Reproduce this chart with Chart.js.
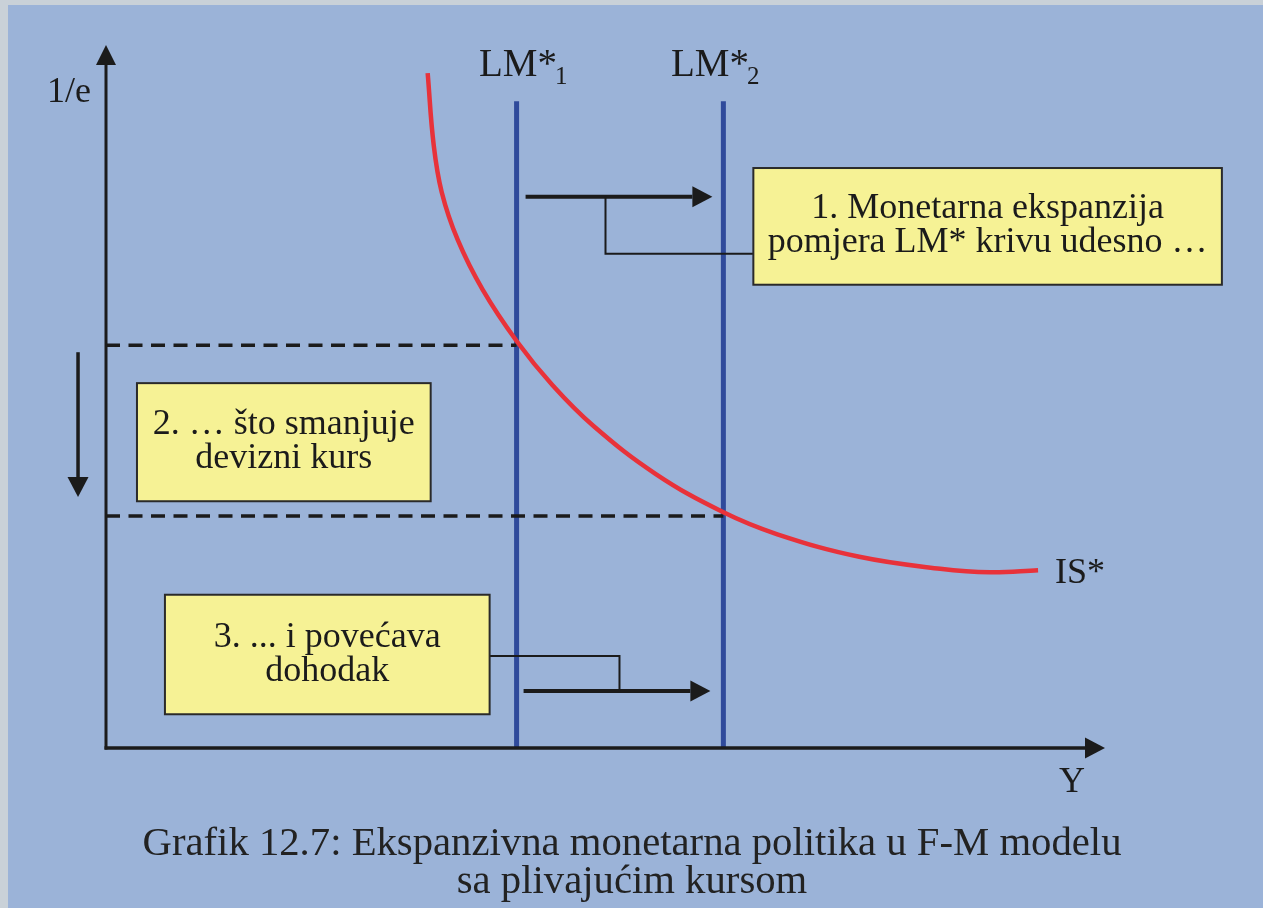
<!DOCTYPE html>
<html>
<head>
<meta charset="utf-8">
<title>Grafik 12.7</title>
<script src="https://cdn.jsdelivr.net/npm/chart.js@4"></script>
<style>
  html, body { margin: 0; padding: 0; background: #c9d1d8; }
  canvas { display: block; }
</style>
</head>
<body>
<canvas id="chart" width="1263" height="908"></canvas>
<script>
// values (Y along x, 1/e along y, both 0..100)
const isX = [32.2, 32.8, 33.6, 35.2, 37.7, 41.1, 44.7, 48.8, 55.0, 61.7, 67.2, 75.4, 83.5, 88.5, 93.3];
const isY = [96.0, 85.8, 79.1, 72.3, 65.2, 57.9, 51.6, 45.8, 39.0, 33.6, 30.4, 27.2, 25.5, 25.0, 25.3];
const lmX = [41.1, 61.8];
const lmTop = 92.0;
const rateY = [57.3, 33.0];
const lmNames = ['LM*', 'LM*'];
const lmSubs = ['1', '2'];
const curveName = 'IS*';
const yAxisName = '1/e';
const xAxisName = 'Y';
const boxTexts = [
    ['1. Monetarna ekspanzija', 'pomjera LM* krivu udesno …'],
    ['2. … što smanjuje', 'devizni kurs'],
    ['3. ... i povećava', 'dohodak']
];
const caption = ['Grafik 12.7: Ekspanzivna monetarna politika u F-M modelu', 'sa plivajućim kursom'];

const SERIF = '"Liberation Serif", "DejaVu Serif", serif';
const INK = '#1b1b1b';

const line = (pts) => pts.map(([x, y]) => ({ x, y }));

const drawArrow = (ctx, x1, y1, x2, y2, lw, head, half) => {
    const a = Math.atan2(y2 - y1, x2 - x1);
    const bx = x2 - Math.cos(a) * head, by = y2 - Math.sin(a) * head;
    ctx.lineWidth = lw;
    ctx.beginPath(); ctx.moveTo(x1, y1); ctx.lineTo(bx, by); ctx.stroke();
    ctx.beginPath();
    ctx.moveTo(x2, y2);
    ctx.lineTo(bx + Math.sin(a) * half, by - Math.cos(a) * half);
    ctx.lineTo(bx - Math.sin(a) * half, by + Math.cos(a) * half);
    ctx.closePath(); ctx.fill();
};

const diagram = {
    id: 'diagram',
    beforeDraw(chart) {
        const { ctx, width, height } = chart;
        ctx.save();
        ctx.fillStyle = '#c9d1d8';
        ctx.fillRect(0, 0, width, height);
        ctx.fillStyle = '#9bb3d8';
        ctx.fillRect(8, 5, width - 8, height - 5);
        ctx.restore();
    },
    afterDatasetsDraw(chart) {
        const { ctx } = chart;
        const sx = chart.scales.x, sy = chart.scales.y;
        const X = v => sx.getPixelForValue(v);
        const Y = v => sy.getPixelForValue(v);
        ctx.save();
        ctx.strokeStyle = INK; ctx.fillStyle = INK;
        ctx.lineCap = 'butt';

        // axes
        drawArrow(ctx, X(0), Y(0) + 1.5, X(0), Y(100), 3, 20, 10);
        drawArrow(ctx, X(0) - 1.5, Y(0), X(100), Y(0), 3.5, 20, 10.5);

        // shift arrows + connectors
        drawArrow(ctx, X(42.0), Y(78.4), X(60.7), Y(78.4), 4, 20, 10.5);
        drawArrow(ctx, X(41.8), Y(8.1), X(60.5), Y(8.1), 4, 20, 10.5);
        drawArrow(ctx, X(-2.8), Y(56.3), X(-2.8), Y(35.7), 3.5, 20, 10.5);
        ctx.lineWidth = 2;
        ctx.beginPath();
        ctx.moveTo(X(50.0), Y(78.4)); ctx.lineTo(X(50.0), Y(70.3)); ctx.lineTo(X(64.8), Y(70.3));
        ctx.moveTo(X(38.3), Y(13.1)); ctx.lineTo(X(51.4), Y(13.1)); ctx.lineTo(X(51.4), Y(8.1));
        ctx.stroke();

        // text boxes
        const boxes = [[64.8, 82.5, 111.7, 65.9], [3.1, 51.9, 32.5, 35.1], [5.9, 21.8, 38.4, 4.8]];
        ctx.font = `36px ${SERIF}`;
        ctx.textAlign = 'center';
        ctx.textBaseline = 'alphabetic';
        boxes.forEach(([x1, y1, x2, y2], i) => {
            const l = X(x1), t = Y(y1), w = X(x2) - l, h = Y(y2) - t;
            ctx.fillStyle = '#f6f295';
            ctx.fillRect(l, t, w, h);
            ctx.strokeStyle = '#2a2a2a';
            ctx.lineWidth = 2;
            ctx.strokeRect(l, t, w, h);
            ctx.fillStyle = INK;
            const cx = l + w / 2, cy = t + h / 2;
            ctx.fillText(boxTexts[i][0], cx, cy - 8, w - 24);
            ctx.fillText(boxTexts[i][1], cx, cy + 26, w - 24);
        });

        // labels
        ctx.fillStyle = INK;
        ctx.font = `36px ${SERIF}`;
        ctx.textAlign = 'right';
        ctx.fillText(yAxisName, 91, 102);
        ctx.textAlign = 'left';
        ctx.fillText(curveName, 1055, 583);
        ctx.fillText(xAxisName, 1059, 792);
        const lmLeft = [479, 671];
        lmX.forEach((_, i) => {
            ctx.font = `39px ${SERIF}`;
            ctx.fillText(lmNames[i], lmLeft[i], 76);
            const w = ctx.measureText(lmNames[i]).width;
            ctx.font = `25px ${SERIF}`;
            ctx.fillText(lmSubs[i], lmLeft[i] + w - 2, 84);
        });

        // caption, slightly condensed like the original typeface
        ctx.font = `40px ${SERIF}`;
        ctx.textAlign = 'center';
        ctx.fillStyle = '#222';
        const ratio = 979 / ctx.measureText(caption[0]).width;
        [[caption[0], 855], [caption[1], 893]].forEach(([txt, base]) => {
            ctx.save();
            ctx.translate(632, base);
            ctx.scale(ratio, 1);
            ctx.fillText(txt, 0, 0);
            ctx.restore();
        });
        ctx.restore();
    }
};

new Chart(document.getElementById('chart'), {
    type: 'line',
    data: {
        datasets: [
            {
                label: curveName,
                data: isX.map((x, i) => ({ x, y: isY[i] })),
                borderColor: '#e8323a', borderWidth: 4.5,
                tension: 0.4,
                pointRadius: 0, clip: false, order: 1
            },
            {
                label: 'LM*1',
                data: line([[lmX[0], 0], [lmX[0], lmTop]]),
                borderColor: '#2f4a9b', borderWidth: 5,
                pointRadius: 0, order: 3
            },
            {
                label: 'LM*2',
                data: line([[lmX[1], 0], [lmX[1], lmTop]]),
                borderColor: '#2f4a9b', borderWidth: 5,
                pointRadius: 0, order: 3
            },
            {
                label: 'e1',
                data: line([[0, rateY[0]], [lmX[0], rateY[0]]]),
                borderColor: INK, borderWidth: 3.5, borderDash: [14, 8.5],
                pointRadius: 0, order: 2
            },
            {
                label: 'e2',
                data: line([[0, rateY[1]], [lmX[1], rateY[1]]]),
                borderColor: INK, borderWidth: 3.5, borderDash: [14, 8.5],
                pointRadius: 0, order: 2
            }
        ]
    },
    options: {
        responsive: false,
        animation: false,
        devicePixelRatio: 1,
        layout: { padding: { left: 106, right: 158, top: 45, bottom: 160 } },
        scales: {
            x: { type: 'linear', min: 0, max: 100, display: false },
            y: { type: 'linear', min: 0, max: 100, display: false }
        },
        plugins: { legend: { display: false }, tooltip: { enabled: false } }
    },
    plugins: [diagram]
});
</script>
</body>
</html>
